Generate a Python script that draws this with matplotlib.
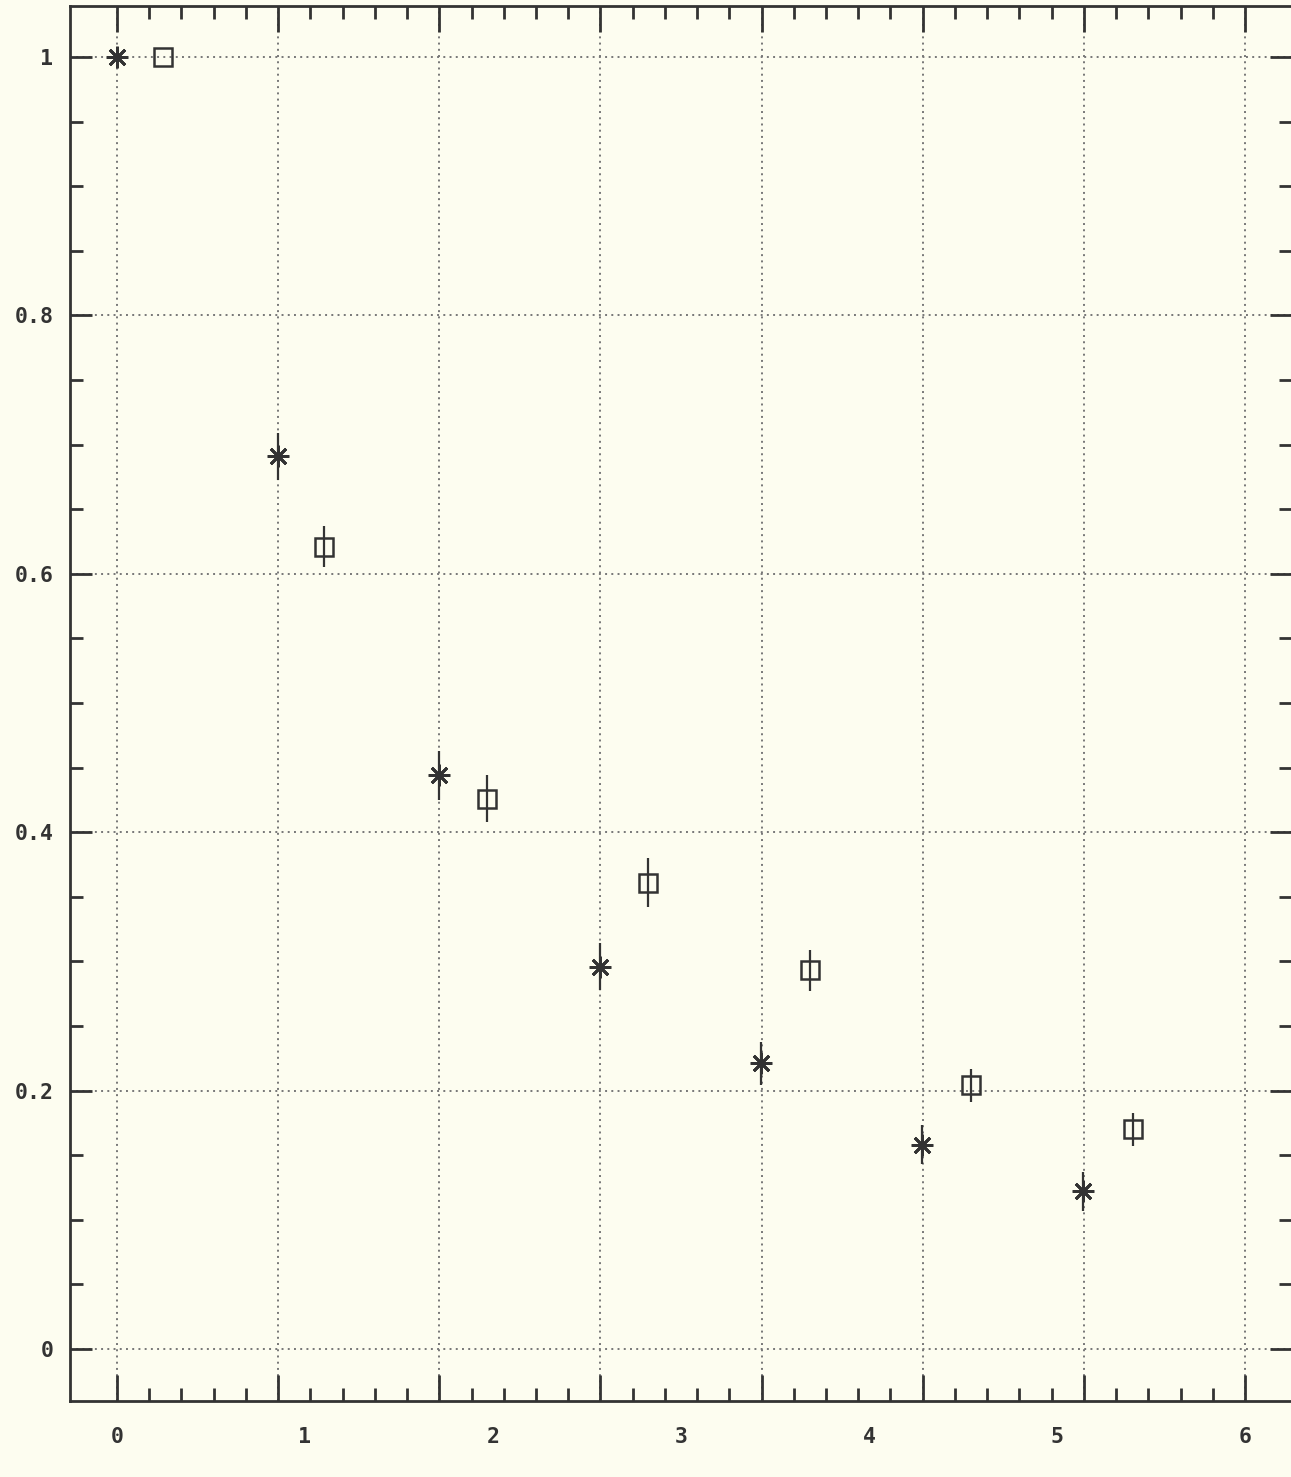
import numpy as np
import matplotlib.pyplot as plt
import matplotlib.transforms as mtransforms
from matplotlib.ticker import FixedLocator

# asterisk series
x_star = [0.0, 0.857, 1.713, 2.569, 3.426, 4.282, 5.138]
y_star = [1.0, 0.691, 0.444, 0.296, 0.221, 0.158, 0.122]
e_star = [0.0, 0.018, 0.019, 0.018, 0.017, 0.015, 0.015]

# square series
x_sq = [0.245, 1.101, 1.968, 2.824, 3.686, 4.543, 5.404]
y_sq = [1.0, 0.621, 0.426, 0.361, 0.293, 0.204, 0.170]
e_sq = [0.0, 0.016, 0.018, 0.019, 0.016, 0.013, 0.013]

x_label_pos = [0, 1, 2, 3, 4, 5, 6]
x_labels = ["0", "1", "2", "3", "4", "5", "6"]
y_major = [0, 0.2, 0.4, 0.6, 0.8, 1.0]
y_labels = ["0", "0.2", "0.4", "0.6", "0.8", "1"]

bg = "#fdfdf0"
ink = "#333333"
font = dict(family="DejaVu Sans Mono", weight="bold", size=15.5)

fig = plt.figure(figsize=(12.91, 14.77), dpi=100, facecolor=bg)
ax = fig.add_axes([0.0542, 0.0515, 0.9466, 0.9444], facecolor=bg)

step = 6 / 7
x_major = [step * k for k in range(8)]
x_minor = [step * k + step * j / 5 for k in range(7) for j in range(1, 5)]

ax.set_xlim(-0.25, 6.25)
ax.set_ylim(-0.0402, 1.0395)

ax.xaxis.set_major_locator(FixedLocator(x_major))
ax.xaxis.set_minor_locator(FixedLocator(x_minor))
ax.yaxis.set_major_locator(FixedLocator(y_major))
ax.yaxis.set_minor_locator(FixedLocator(np.arange(0.05, 1.0, 0.05)))
ax.set_xticklabels([])
ax.set_yticklabels(y_labels, fontdict=font)

ax.tick_params(which="major", direction="in", length=19, width=2, color=ink,
               top=True, right=True, bottom=True, left=True)
ax.tick_params(which="minor", direction="in", length=9.5, width=2, color=ink,
               top=True, right=True, bottom=True, left=True)
ax.tick_params(axis="y", which="major", length=16, pad=12, labelcolor=ink)
for s in ax.spines.values():
    s.set_color(ink)
    s.set_linewidth(2)

ax.grid(True, which="major", linestyle=(0, (1, 2.2)), linewidth=1.4, color="#777777")

# value labels below the frame (they don't line up with the grid in the original)
trans = mtransforms.blended_transform_factory(ax.transData, ax.transAxes)
for xv, lab in zip(x_label_pos, x_labels):
    ax.text(xv, -0.0258, lab, transform=trans, ha="center", va="center",
            color=ink, clip_on=False, **font)

ax.errorbar(x_star, y_star, yerr=e_star, fmt="none", ecolor=ink, elinewidth=1.6, capsize=0)
ax.errorbar(x_sq, y_sq, yerr=e_sq, fmt="none", ecolor=ink, elinewidth=1.6, capsize=0)
ax.plot(x_star, y_star, linestyle="none", marker=(8, 2, 0), markersize=15.5,
        markeredgewidth=2, color=ink)
ax.plot(x_sq, y_sq, linestyle="none", marker="s", markersize=12.5,
        markerfacecolor="none", markeredgewidth=1.8, color=ink)

fig.savefig("out.png", dpi=100, facecolor=bg)
